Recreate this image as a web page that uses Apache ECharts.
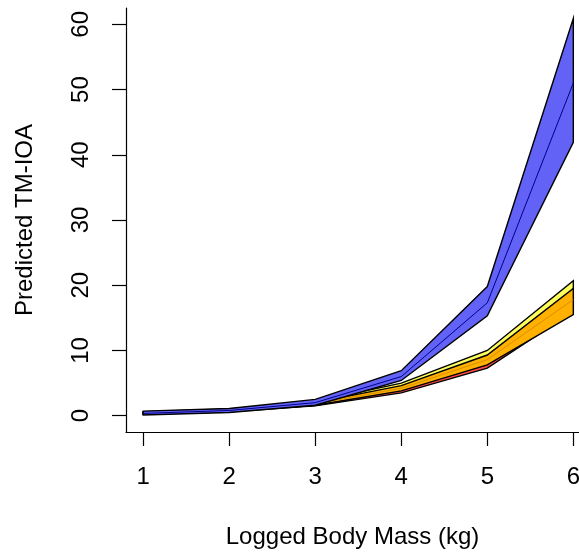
<!DOCTYPE html>
<html>
<head>
<meta charset="utf-8">
<script src="https://cdn.jsdelivr.net/npm/echarts@6/dist/echarts.min.js"></script>
<style>
  html, body { margin: 0; padding: 0; background: #fff; }
  #chart { width: 579px; height: 552px; }
</style>
</head>
<body>
<div id="chart"></div>
<script>
// logged body mass on x
var logMass = [1, 2, 3, 4, 5, 6];
var xTicks = [1, 2, 3, 4, 5, 6];
var yTicks = [0, 10, 20, 30, 40, 50, 60];

// predicted TM-IOA: lower / middle / upper for each group
var blueLow = [0.1, 0.5, 1.6, 5.4, 15.3, 41.9];
var blueMid = [0.35, 0.8, 2.0, 6.0, 17.3, 51.0];
var blueUp = [0.7, 1.1, 2.5, 6.9, 19.8, 60.9];

var yellowLow = [0.2, 0.7, 1.6, 3.9, 8.0, 15.6];
var yellowMid = [0.45, 0.9, 1.85, 4.4, 9.0, 18.2];
var yellowUp = [0.6, 1.05, 2.15, 5.0, 10.0, 20.7];

var orangeLow = [0.25, 0.7, 1.6, 3.8, 7.8, 15.5];
var orangeMid = [0.4, 0.85, 1.8, 4.2, 8.6, 17.8];
var orangeUp = [0.55, 1.0, 2.0, 4.6, 9.3, 19.5];

var redLow = [0.2, 0.6, 1.5, 3.5, 7.3, 16.0];
var redMid = [0.35, 0.8, 1.7, 3.9, 7.8, 17.3];
var redUp = [0.5, 0.95, 1.9, 4.2, 8.3, 18.5];

var myChart = echarts.init(document.getElementById('chart'), null, {renderer: 'canvas'});

// one band = polygon between low and up (black border) + middle line
function band(low, mid, up, fill, midColor) {
    return {
        type: 'custom',
        silent: true,
        clip: true,
        data: [[logMass[0], low[0]]],
        encode: {x: 0, y: 1},
        renderItem: function (params, api) {
            var top = logMass.map(function (x, i) { return api.coord([x, up[i]]); });
            var bot = logMass.map(function (x, i) { return api.coord([x, low[i]]); }).reverse();
            var mids = logMass.map(function (x, i) { return api.coord([x, mid[i]]); });
            return {
                type: 'group',
                children: [
                    {
                        type: 'polygon',
                        shape: {points: top.concat(bot)},
                        style: {fill: fill, stroke: '#000', lineWidth: 1.4}
                    },
                    {
                        type: 'polyline',
                        shape: {points: mids},
                        style: {fill: null, stroke: midColor, lineWidth: 1}
                    }
                ]
            };
        }
    };
}

var font = 'Liberation Sans, Arial, sans-serif';

option = {
    backgroundColor: '#fff',
    animation: false,
    grid: {left: 126, top: 8, right: 0, bottom: 120, containLabel: false, outerBoundsMode: 'none'},
    xAxis: {
        type: 'value',
        min: 0.8,
        max: 6.066,
        name: 'Logged Body Mass (kg)',
        nameLocation: 'middle',
        nameGap: 93,
        nameTextStyle: {color: '#000', fontSize: 24, fontFamily: font},
        axisLine: {onZero: false, lineStyle: {color: '#000', width: 1.2}},
        axisTick: {show: true, length: 14, lineStyle: {color: '#000', width: 1.2}, customValues: xTicks},
        axisLabel: {color: '#000', fontSize: 24, fontFamily: font, margin: 33, customValues: xTicks},
        splitLine: {show: false}
    },
    yAxis: {
        type: 'value',
        min: -2.5,
        max: 62.5,
        name: 'Predicted TM-IOA',
        nameLocation: 'middle',
        nameGap: 89,
        nameTextStyle: {color: '#000', fontSize: 24, fontFamily: font},
        axisLine: {show: true, onZero: false, lineStyle: {color: '#000', width: 1.2}},
        axisTick: {show: true, length: 14, lineStyle: {color: '#000', width: 1.2}, customValues: yTicks},
        axisLabel: {color: '#000', fontSize: 24, fontFamily: font, margin: 33, rotate: 90, customValues: yTicks},
        splitLine: {show: false}
    },
    series: [
        band(redLow, redMid, redUp, '#ff4a4a', '#c00000'),
        band(yellowLow, yellowMid, yellowUp, '#ffff5c', '#d0b000'),
        band(orangeLow, orangeMid, orangeUp, '#ffb000', '#d89000'),
        band(blueLow, blueMid, blueUp, '#6262f6', '#00008b')
    ]
};
myChart.setOption(option);
</script>
</body>
</html>
